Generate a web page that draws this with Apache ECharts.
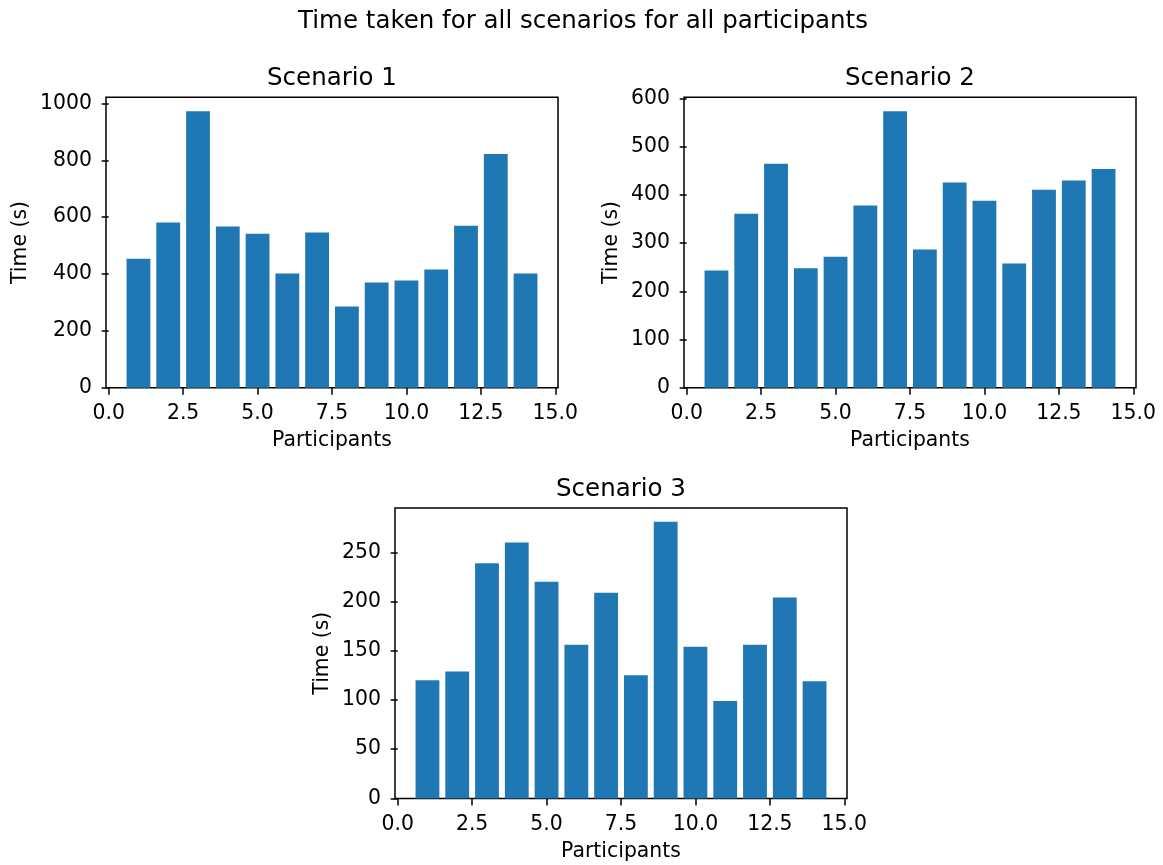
<!DOCTYPE html>
<html>
<head>
<meta charset="utf-8">
<title>Time taken for all scenarios for all participants</title>
<script src="https://cdn.jsdelivr.net/npm/echarts@6/dist/echarts.min.js"></script>
<style>
  html, body { margin: 0; padding: 0; background: #fff; }
  #chart { width: 1163px; height: 865px; }
</style>
</head>
<body>
<div id="chart"></div>
<script>
// Participant ids (x positions of the bars)
const participants = [1, 2, 3, 4, 5, 6, 7, 8, 9, 10, 11, 12, 13, 14];

// Time taken per participant, in seconds
const scenario1 = [454, 581, 973, 567, 542, 402, 546, 286, 370, 377, 416, 570, 822, 402];
const scenario2 = [243, 361, 465, 248, 272, 378, 574, 287, 426, 388, 258, 411, 430, 454];
const scenario3 = [120, 129, 239, 260, 220, 156, 209, 125, 281, 154, 99, 156, 204, 119];

// Tick values
const xTicks = [0, 2.5, 5, 7.5, 10, 12.5, 15];
const yTicks1 = [0, 200, 400, 600, 800, 1000];
const yTicks2 = [0, 100, 200, 300, 400, 500, 600];
const yTicks3 = [0, 50, 100, 150, 200, 250];

const titles = ['Scenario 1', 'Scenario 2', 'Scenario 3'];

const FONT = 'DejaVu Sans';
const TICK_FS = 20.4;
const TITLE_FS = 24.5;
const BAR_COLOR = '#1f77b4';
const BAR_WIDTH = 0.8;
const LINE_W = 1.5;
const TICK_LEN = 7;
const TEXT_DROP = 2; // nudge text down so glyph centres sit on their anchors

// Panel rectangles (plot area, in px)
const panels = [
  { left: 106, top: 97.3, width: 452, height: 290.4, yNameCenter: 85.7 },
  { left: 684, top: 97.3, width: 452, height: 290.4, yNameCenter: 72.6 },
  { left: 395, top: 508, width: 452, height: 290.4, yNameCenter: 72.6 }
];
const seriesData = [scenario1, scenario2, scenario3];
const yTickSets = [yTicks1, yTicks2, yTicks3];

const grids = [], xAxes = [], yAxes = [], series = [], titleList = [];

titleList.push({
  text: 'Time taken for all scenarios for all participants',
  left: 583, top: 20 - TITLE_FS / 2 + TEXT_DROP, textAlign: 'center', padding: 0,
  textStyle: { fontFamily: FONT, fontSize: TITLE_FS, fontWeight: 'normal', color: '#000', lineHeight: TITLE_FS }
});

panels.forEach((p, i) => {
  grids.push({
    left: p.left, top: p.top, width: p.width, height: p.height,
    show: true, borderColor: '#000', borderWidth: LINE_W, backgroundColor: 'transparent',
    containLabel: false, outerBoundsMode: 'none'
  });
  titleList.push({
    text: titles[i],
    left: p.left + p.width / 2, top: p.top - 20.6 - TITLE_FS / 2 + TEXT_DROP,
    textAlign: 'center', padding: 0,
    textStyle: { fontFamily: FONT, fontSize: TITLE_FS, fontWeight: 'normal', color: '#000', lineHeight: TITLE_FS }
  });
  xAxes.push({
    type: 'value', gridIndex: i,
    // matplotlib-style 5% margin around the bar extent
    min: v => v.min - BAR_WIDTH / 2 - 0.05 * (v.max - v.min + BAR_WIDTH),
    max: v => v.max + BAR_WIDTH / 2 + 0.05 * (v.max - v.min + BAR_WIDTH),
    name: 'Participants', nameLocation: 'middle', nameGap: 51.3 - TICK_FS / 2 + TEXT_DROP,
    nameTextStyle: { fontFamily: FONT, fontSize: TICK_FS, color: '#000', lineHeight: TICK_FS },
    axisLine: { show: false },
    splitLine: { show: false },
    axisTick: { show: true, length: TICK_LEN, lineStyle: { color: '#000', width: LINE_W }, customValues: xTicks },
    axisLabel: {
      fontFamily: FONT, fontSize: TICK_FS, color: '#000', lineHeight: TICK_FS,
      margin: 24 - TICK_FS / 2 + TEXT_DROP,
      customValues: xTicks, formatter: v => Number(v).toFixed(1)
    }
  });
  yAxes.push({
    type: 'value', gridIndex: i,
    min: 0,
    max: v => v.max * 1.05,
    name: 'Time (s)', nameLocation: 'middle', nameGap: p.yNameCenter - TICK_FS / 2,
    nameTextStyle: { fontFamily: FONT, fontSize: TICK_FS, color: '#000', lineHeight: TICK_FS },
    axisLine: { show: false },
    splitLine: { show: false },
    axisTick: { show: true, length: TICK_LEN, lineStyle: { color: '#000', width: LINE_W }, customValues: yTickSets[i] },
    axisLabel: {
      fontFamily: FONT, fontSize: TICK_FS, color: '#000', margin: 14,
      padding: [TEXT_DROP * 2, 0, 0, 0],
      customValues: yTickSets[i], formatter: v => String(v)
    }
  });
  series.push({
    type: 'custom', xAxisIndex: i, yAxisIndex: i,
    encode: { x: 0, y: 1 },
    data: participants.map((pid, k) => [pid, seriesData[i][k]]),
    renderItem: (params, api) => {
      const x = api.value(0), y = api.value(1);
      const p0 = api.coord([x - BAR_WIDTH / 2, y]);
      const p1 = api.coord([x + BAR_WIDTH / 2, 0]);
      return {
        type: 'rect',
        shape: { x: p0[0], y: p0[1], width: p1[0] - p0[0], height: p1[1] - p0[1] },
        style: { fill: BAR_COLOR }
      };
    },
    silent: true
  });
});

const chart = echarts.init(document.getElementById('chart'), null, { renderer: 'canvas' });
chart.setOption({
  animation: false,
  backgroundColor: '#fff',
  title: titleList,
  grid: grids,
  xAxis: xAxes,
  yAxis: yAxes,
  series: series
});
</script>
</body>
</html>
